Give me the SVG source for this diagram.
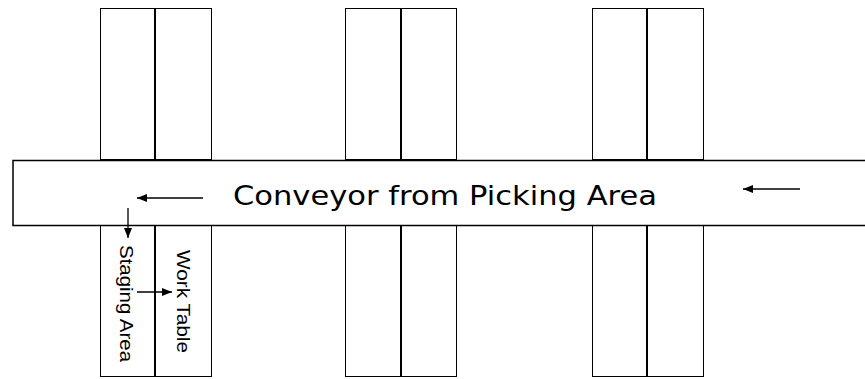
<svg xmlns="http://www.w3.org/2000/svg" width="865" height="379" viewBox="0 0 865 379">
<style>
.rack{fill:#fff;stroke:#000;stroke-width:1}
.div{stroke:#000;stroke-width:2}
.conv{fill:#fff;stroke:#000;stroke-width:1.5}
.arr{stroke:#000;stroke-width:1.3;fill:none}
.big{font-family:"DejaVu Sans",sans-serif;font-size:27px;fill:#000}
.small{font-family:"Liberation Sans",Arial,sans-serif;font-size:18px;fill:#000}
</style>
<defs>
<marker id="ah" viewBox="0 0 10 8" refX="10" refY="4" markerWidth="10" markerHeight="8" markerUnits="userSpaceOnUse" orient="auto">
<path d="M0,0 L10,4 L0,8 Z" fill="#000"/>
</marker>
</defs>
<g id="rack-top-1"><rect class="rack" x="100.5" y="8.5" width="111" height="151"/><line class="div" x1="155" y1="8" x2="155" y2="160"/></g>
<g id="rack-top-2"><rect class="rack" x="345.5" y="8.5" width="111" height="151"/><line class="div" x1="401" y1="8" x2="401" y2="160"/></g>
<g id="rack-top-3"><rect class="rack" x="592.5" y="8.5" width="111" height="151"/><line class="div" x1="647" y1="8" x2="647" y2="160"/></g>
<g id="rack-bot-1"><rect class="rack" x="100.5" y="225.5" width="111" height="151"/><line class="div" x1="155" y1="226" x2="155" y2="377"/></g>
<g id="rack-bot-2"><rect class="rack" x="345.5" y="225.5" width="111" height="151"/><line class="div" x1="401" y1="226" x2="401" y2="377"/></g>
<g id="rack-bot-3"><rect class="rack" x="592.5" y="225.5" width="111" height="151"/><line class="div" x1="647" y1="226" x2="647" y2="377"/></g>
<g id="conveyor"><rect class="conv" x="13" y="160.5" width="860" height="65"/>
<text class="big" x="233" y="205" textLength="424" lengthAdjust="spacingAndGlyphs">Conveyor from Picking Area</text></g>
<g id="staging-label"><text class="small" transform="translate(120,245) rotate(90)" textLength="117" lengthAdjust="spacingAndGlyphs">Staging Area</text></g>
<g id="worktable-label"><text class="small" transform="translate(177,250) rotate(90)" textLength="103" lengthAdjust="spacingAndGlyphs">Work Table</text></g>
<g id="connectors">
<line class="arr" x1="203" y1="198" x2="137" y2="198" marker-end="url(#ah)"/>
<line class="arr" x1="800" y1="189" x2="743" y2="189" marker-end="url(#ah)"/>
<line class="arr" x1="128" y1="208" x2="128" y2="238" marker-end="url(#ah)"/>
<line class="arr" x1="137" y1="292" x2="172" y2="292" marker-end="url(#ah)"/>
</g>
</svg>
